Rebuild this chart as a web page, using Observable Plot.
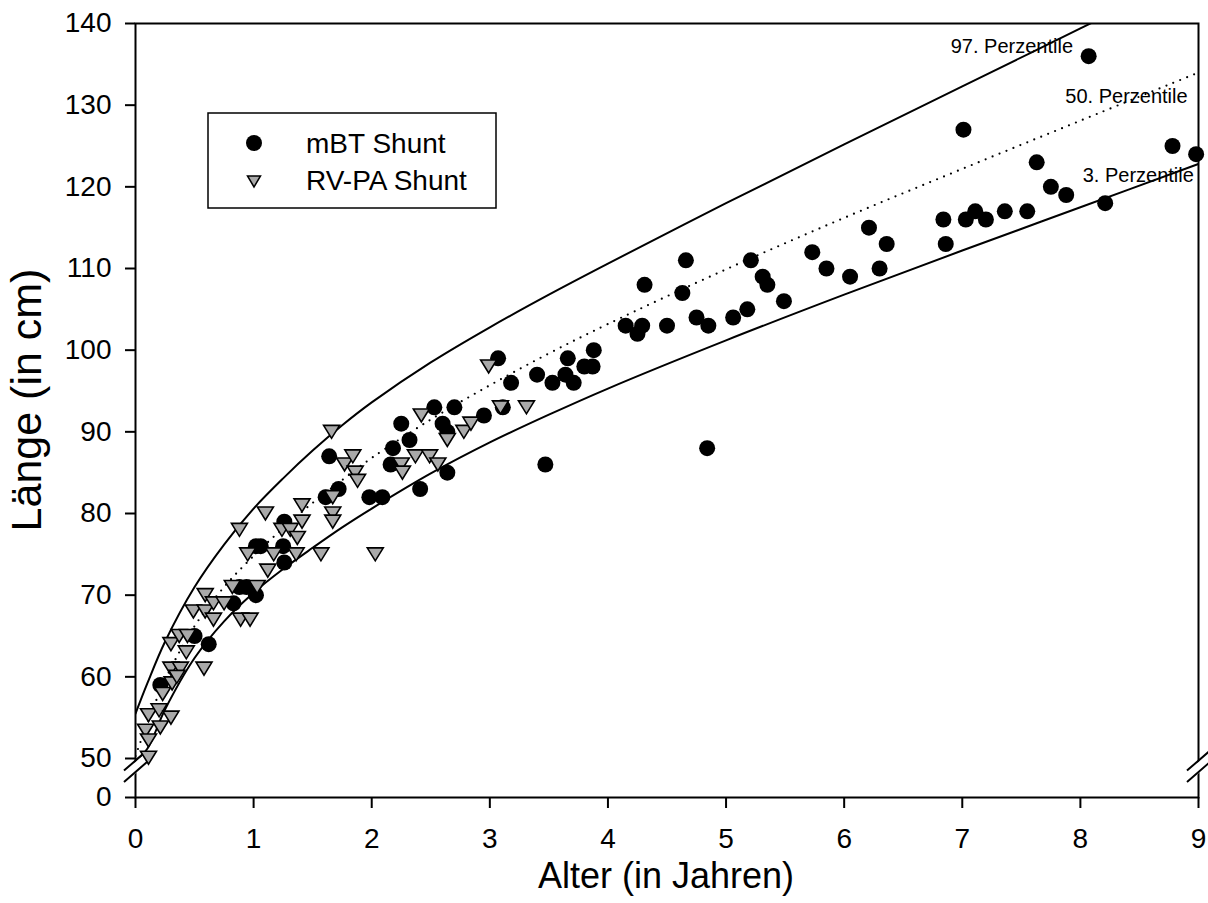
<!DOCTYPE html>
<html>
<head>
<meta charset="utf-8">
<script src="https://cdn.jsdelivr.net/npm/d3@7"></script>
<script src="https://cdn.jsdelivr.net/npm/@observablehq/plot@0.6"></script>
<style>
  html, body { margin: 0; padding: 0; background: #fff; }
  #chart svg { display: block; }
  g[aria-label^="x-axis"] path, g[aria-label^="x-axis"] line,
  g[aria-label^="y-axis"] path, g[aria-label^="y-axis"] line { stroke-width: 2px; stroke: #000; }
</style>
</head>
<body>
<div id="chart"></div>
<script>
// ---- Data ----
// Percentile reference curves (age in years, length in cm)
const pctAges = [0, 0.1, 0.25, 0.5, 0.75, 1, 1.25, 1.5, 1.75, 2, 2.5, 3, 3.5, 4, 5, 6, 7, 8, 9];
const p97 = [55.5, 59.2, 64.3, 71.0, 76.2, 80.6, 84.3, 87.7, 90.8, 93.6, 98.5, 102.8, 106.8, 110.6, 118.0, 125.2, 132.3, 139.4, 146.5];
const p50 = [50.3, 54.3, 59.6, 66.2, 71.0, 74.8, 78.2, 81.3, 84.1, 86.8, 91.5, 95.7, 99.6, 103.2, 109.9, 116.2, 122.2, 128.1, 134.0];
const p3  = [47.5, 51.2, 56.0, 62.3, 66.8, 70.3, 73.2, 75.8, 78.3, 80.6, 84.9, 88.7, 92.1, 95.3, 101.2, 106.8, 112.2, 117.5, 122.8];

// mBT Shunt patients
const mbtAge = [0.21, 0.50, 0.62, 0.83, 0.88, 0.94, 1.02, 1.02, 1.06, 1.26, 1.25, 1.26, 1.61, 1.64, 1.72, 1.98, 2.09, 2.16, 2.18, 2.25,
  2.32, 2.41, 2.53, 2.60, 2.64, 2.64, 2.70, 2.95, 3.07, 3.11, 3.18, 3.40, 3.47, 3.53, 3.64, 3.66, 3.71, 3.80, 3.87, 3.88,
  4.15, 4.25, 4.29, 4.31, 4.50, 4.63, 4.66, 4.75, 4.84, 4.85, 5.06, 5.18, 5.21, 5.31, 5.35, 5.49, 5.73, 5.85, 6.05, 6.21,
  6.30, 6.36, 6.84, 6.86, 7.01, 7.03, 7.11, 7.20, 7.36, 7.55, 7.63, 7.75, 7.88, 8.07, 8.21, 8.78, 8.98];
const mbtLen = [59, 65, 64, 69, 71, 71, 70, 76, 76, 79, 76, 74, 82, 87, 83, 82, 82, 86, 88, 91,
  89, 83, 93, 91, 90, 85, 93, 92, 99, 93, 96, 97, 86, 96, 97, 99, 96, 98, 98, 100,
  103, 102, 103, 108, 103, 107, 111, 104, 88, 103, 104, 105, 111, 109, 108, 106, 112, 110, 109, 115,
  110, 113, 116, 113, 127, 116, 117, 116, 117, 117, 123, 120, 119, 136, 118, 125, 124];

// RV-PA Shunt patients
const rvpaAge = [0.085, 0.11, 0.11, 0.11, 0.20, 0.21, 0.23, 0.30, 0.31, 0.30, 0.38, 0.35, 0.30, 0.43, 0.37, 0.44, 0.49, 0.58, 0.59, 0.59,
  0.66, 0.66, 0.75, 0.82, 0.88, 0.89, 0.97, 1.03, 0.95, 1.10, 1.12, 1.17, 1.24, 1.31, 1.36, 1.37, 1.41, 1.41, 1.57, 1.66,
  1.67, 1.67, 1.67, 1.77, 1.84, 1.86, 1.88, 2.03, 2.25, 2.26, 2.37, 2.42, 2.49, 2.56, 2.64, 2.78, 2.84, 2.99, 3.09, 3.31];
const rvpaLen = [53.4, 55.3, 52.2, 50.1, 55.9, 53.8, 57.9, 55.0, 59.2, 61, 61, 60, 64, 63, 65, 65, 68, 61, 70, 68,
  69, 67, 69, 71, 78, 67, 67, 71, 75, 80, 73, 75, 78, 78, 75, 77, 81, 79, 75, 90,
  82, 80, 79, 86, 87, 85, 84, 75, 86, 85, 87, 92, 87, 86, 89, 90, 91, 98, 93, 93];

// Axis ticks and texts
const xTicks = [0, 1, 2, 3, 4, 5, 6, 7, 8, 9];
const yTicks = [0, 50, 60, 70, 80, 90, 100, 110, 120, 130, 140];
const pctLabels = [
  {x: 7.42, y: 137.2, text: "97. Perzentile"},
  {x: 8.39, y: 131.0, text: "50. Perzentile"},
  {x: 8.49, y: 121.4, text: "3. Perzentile"}
];
const seriesNames = ["mBT Shunt", "RV-PA Shunt"];
const xTitle = "Alter (in Jahren)";
const yTitle = "Länge (in cm)";

// ---- Build tables ----
const curve = (vals) => pctAges.map((a, i) => ({age: a, len: vals[i]}));
const mbt = mbtAge.map((a, i) => ({age: a, len: mbtLen[i]}));
const rvpa = rvpaAge.map((a, i) => ({age: a, len: rvpaLen[i]}));

// down-pointing triangle symbol
const triDown = {
  draw(ctx, size) {
    const r = Math.sqrt(size / Math.PI);
    const w = r * 2, h = r * 1.625;
    ctx.moveTo(-w / 2, -h / 2);
    ctx.lineTo(w / 2, -h / 2);
    ctx.lineTo(0, h / 2);
    ctx.closePath();
  }
};
// axis break symbols
const breakGap = {
  draw(ctx) {
    ctx.moveTo(-5, 0); ctx.lineTo(5, -8.7); ctx.lineTo(5, 2.7); ctx.lineTo(-5, 11.4); ctx.closePath();
  }
};
const breakLines = {
  draw(ctx) {
    ctx.moveTo(-11.5, 4.3); ctx.lineTo(11.5, -15.7);
    ctx.moveTo(-11.5, 15.7); ctx.lineTo(11.5, -4.3);
  }
};

const font = "'Liberation Sans', Arial, sans-serif";

const chart = Plot.plot({
  width: 1208,
  height: 903,
  marginLeft: 135,
  marginRight: 10,
  marginTop: 23,
  marginBottom: 106,
  style: {fontFamily: font, fontSize: "28px", background: "white", color: "black"},
  x: {domain: [0, 9], range: [135, 1198], ticks: xTicks, tickSize: 11, tickPadding: 20, tickFormat: d => String(d), label: null},
  y: {type: "linear", domain: [0, 50, 140], range: [797, 758, 23], ticks: yTicks, tickSize: 10, tickPadding: 14, tickFormat: d => String(d), label: null},
  marks: [
    Plot.line(curve(p97), {x: "age", y: "len", stroke: "black", strokeWidth: 2, curve: "catmull-rom", clip: true}),
    Plot.line(curve(p3), {x: "age", y: "len", stroke: "black", strokeWidth: 2, curve: "catmull-rom", clip: true}),
    Plot.line(curve(p50), {x: "age", y: "len", stroke: "black", strokeWidth: 2.2, strokeDasharray: "0,7.5", strokeLinecap: "round", curve: "catmull-rom", clip: true}),
    Plot.frame({stroke: "black", strokeWidth: 2}),
    Plot.dot([0, 9], {x: d => d, y: () => 40, symbol: breakGap, r: 8, fill: "white", stroke: "none"}),
    Plot.dot([0, 9], {x: d => d, y: () => 40, symbol: breakLines, r: 8, fill: "none", stroke: "black", strokeWidth: 2}),
    Plot.text(pctLabels, {x: "x", y: "y", text: "text", fontSize: 20, fill: "black"}),
    Plot.dot(mbt, {x: "age", y: "len", r: 8, fill: "black", stroke: "none"}),
    Plot.dot(rvpa, {x: "age", y: "len", r: 8, symbol: triDown, fill: "#a9a9a9", stroke: "black", strokeWidth: 1.6})
  ]
});

document.getElementById("chart").appendChild(chart);

// ---- Titles and legend ----
const svg = d3.select(chart);
const addText = (sel) => sel.attr("fill", "black").style("font-family", font);
addText(svg.append("text"))
  .attr("x", 666).attr("y", 878)
  .attr("text-anchor", "middle").attr("dominant-baseline", "middle")
  .style("font-size", "36px")
  .text(xTitle);
addText(svg.append("text"))
  .attr("transform", "translate(30,400) rotate(-90)")
  .attr("text-anchor", "middle").attr("dominant-baseline", "middle")
  .style("font-size", "43px")
  .text(yTitle);

const lg = svg.append("g");
lg.append("rect").attr("x", 208).attr("y", 113).attr("width", 288).attr("height", 95)
  .attr("fill", "white").attr("stroke", "black").attr("stroke-width", 1.5);
lg.append("circle").attr("cx", 254).attr("cy", 143).attr("r", 8).attr("fill", "black");
lg.append("path").attr("d", "M247.5,176 L260.5,176 L254,187 Z")
  .attr("fill", "#a9a9a9").attr("stroke", "black").attr("stroke-width", 1.5);
addText(lg.append("text")).attr("x", 306).attr("y", 153).attr("text-anchor", "start")
  .style("font-size", "28px").text(seriesNames[0]);
addText(lg.append("text")).attr("x", 306).attr("y", 190).attr("text-anchor", "start")
  .style("font-size", "28px").text(seriesNames[1]);
</script>
</body>
</html>
